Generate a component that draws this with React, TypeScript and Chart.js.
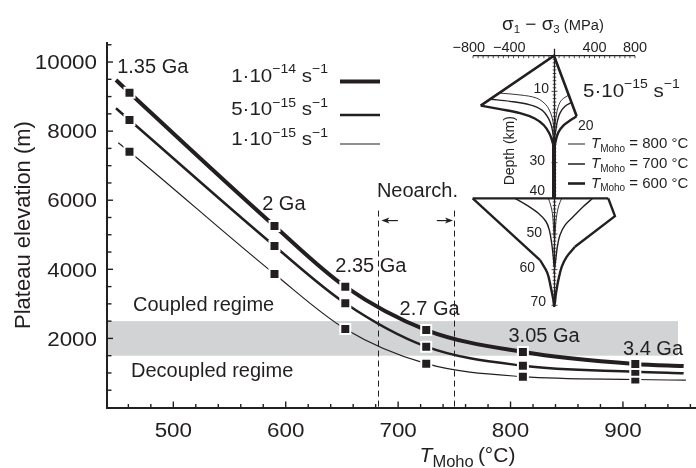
import React, { useEffect, useRef } from 'react';
import { Chart, registerables } from 'chart.js';

Chart.register(...registerables);

const FONT = '"Liberation Sans", Arial, Helvetica, sans-serif';
const INK = '#231f20';
const BAND = '#d1d3d4';

// ---------------- main panel data ----------------
const ageLabels = ['1.35 Ga', '2 Ga', '2.35 Ga', '2.7 Ga', '3.05 Ga', '3.4 Ga'];
const mohoTemps = [461, 590, 653, 725, 811, 911];
const elev1e14 = [9113, 5254, 3497, 2243, 1607, 1260];
const elev5e15 = [8322, 4675, 3016, 1760, 1210, 1036];
const elev1e15 = [7405, 3864, 2272, 1268, 892, 810];
const curveStartTemp = [449, 449, 451];
const curveStartElev = [9480, 8661, 7665];
const curveEndTemp = [954, 954, 956];
const curveEndElev = [1200, 990, 790];
const strainMantissa = ['1', '5', '1'];
const strainExponent = ['\u221214', '\u221215', '\u221215'];
const couplingBandElev = [1500, 2500];
const couplingBandEndTemp = 949;
const neoarcheanTemps = [682, 750];
const neoarcheanTopElev = 5700;
const xMajorTicks = [500, 600, 700, 800, 900];
const yMajorTicks = [2000, 4000, 6000, 8000, 10000];
const regimeLabels = ['Coupled regime', 'Decoupled regime'];

// ---------------- inset data: [stress MPa, depth km] ----------------
const brittleLine = [[-724, 14], [0, 0], [224, 17]];
const crust600Left = [[-724, 14], [-533, 15.0], [-336, 16.1], [-190, 17.6], [-100, 19.5], [-45, 21.8], [-15, 24.2], [0, 26]];
const crust600Right = [[224, 17], [158, 18.2], [92, 19.6], [43, 21.5], [18, 23.8], [0, 26.4]];
const crust700Left = [[-625, 12.2], [-435, 12.8], [-237, 13.8], [-122, 15.2], [-56, 17.5], [-23, 19.9], [-7, 22.7], [0, 25]];
const crust700Right = [[174, 13.1], [109, 14.2], [59, 16.1], [33, 18.4], [18, 20.8], [0, 24]];
const crust800Left = [[-533, 10.5], [-336, 11], [-171, 11.9], [-79, 13.8], [-33, 16.1], [-7, 18.9], [0, 22]];
const crust800Right = [[147, 11], [76, 12.4], [43, 14.2], [23, 16.6], [12, 18.9], [0, 22]];
const ductileColumn = [[0, 23], [0, 40]];
const mohoStep = [[-803, 40], [536, 40]];
const mantle600LeftBrittle = [[-803, 40], [-138, 57.3]];
const mantle600LeftDuctile = [[-138, 57.3], [-66, 60.9], [-33, 64.7], [-7, 68.4], [0, 70]];
const mantle600RightBrittle = [[536, 40], [602, 45], [207, 53.6]];
const mantle600RightDuctile = [[207, 53.6], [125, 56.4], [76, 59.2], [43, 62.9], [20, 66.6], [7, 69.5], [0, 70.5]];
const mantle700Left = [[-385, 40], [-270, 41.9], [-155, 44.2], [-79, 46.5], [-46, 48.9], [-23, 52.6], [-7, 56.4], [0, 59.2]];
const mantle700Right = [[382, 40], [290, 42.3], [191, 45.1], [109, 47.5], [59, 50.3], [33, 53.6], [17, 57.3], [0, 61]];
const mantle800Left = [[-56, 40], [-33, 41.9], [-16, 44.2], [-7, 47], [0, 50.8]];
const mantle800Right = [[76, 40], [49, 41.9], [30, 44.2], [17, 47], [9, 50.8], [0, 55]];
const stressTicks = [-800, -400, 400, 800];
const depthTicks = [10, 20, 30, 40, 50, 60, 70];
const insetTemps = ['800', '700', '600'];

// ---------------- layout / style (not data) ----------------
const seriesWidths = [4, 2.5, 1.2];
const ageLabelOffsets = [[-12.3, -19.4], [-12.3, -16], [-10, -15], [-26.7, -15], [-14.4, -10.3], [-12.3, -9]];
const depthLabelLayout = [[-5, 2, 'r'], [24, 3, 'l'], [-9, 2.3, 'r'], [-9, -3.3, 'r'], [-12, 3.3, 'r'], [-19, 2.4, 'r'], [-8, 0.7, 'r']];
const insetLegendWidths = [1, 1.5, 2.6];

type Seg = { t: string; size: number; dy?: number; italic?: boolean };

function fontOf(size: number, italic?: boolean) {
  return `${italic ? 'italic ' : ''}${size}px ${FONT}`;
}

function drawRich(ctx: CanvasRenderingContext2D, segs: Seg[], x: number, y: number, align: 'left' | 'right' | 'center', hs = 1) {
  const widths = segs.map((s) => {
    ctx.font = fontOf(s.size, s.italic);
    return ctx.measureText(s.t).width * hs;
  });
  const total = widths.reduce((a, b) => a + b, 0);
  let cx = align === 'left' ? x : align === 'right' ? x - total : x - total / 2;
  segs.forEach((s, i) => {
    ctx.save();
    ctx.font = fontOf(s.size, s.italic);
    ctx.fillStyle = INK;
    ctx.textAlign = 'left';
    ctx.textBaseline = 'alphabetic';
    ctx.translate(cx, y + (s.dy || 0));
    ctx.scale(hs, 1);
    ctx.fillText(s.t, 0, 0);
    ctx.restore();
    cx += widths[i];
  });
  return total;
}

function drawText(ctx: CanvasRenderingContext2D, t: string, x: number, y: number, size: number, align: 'left' | 'right' | 'center' = 'left', hs = 1, italic = false) {
  return drawRich(ctx, [{ t, size, italic }], x, y, align, hs);
}

function seg(ctx: CanvasRenderingContext2D, x1: number, y1: number, x2: number, y2: number) {
  ctx.beginPath();
  ctx.moveTo(x1, y1);
  ctx.lineTo(x2, y2);
  ctx.stroke();
}

function arrowHead(ctx: CanvasRenderingContext2D, hx: number, hy: number, dir: number) {
  ctx.beginPath();
  ctx.moveTo(hx, hy);
  ctx.lineTo(hx - dir * 8, hy - 3);
  ctx.lineTo(hx - dir * 6, hy);
  ctx.lineTo(hx - dir * 8, hy + 3);
  ctx.closePath();
  ctx.fill();
}

const mainDecor = {
  id: 'mainDecor',
  beforeDatasetsDraw(chart: any) {
    const { ctx, scales: { x, y } } = chart;
    ctx.save();
    // coupling band
    const bx1 = x.getPixelForValue(x.min);
    const bx2 = x.getPixelForValue(couplingBandEndTemp);
    const by1 = y.getPixelForValue(couplingBandElev[1]);
    const by2 = y.getPixelForValue(couplingBandElev[0]);
    ctx.fillStyle = BAND;
    ctx.fillRect(bx1, by1, bx2 - bx1, by2 - by1);
    // Neoarchean dashed bounds
    ctx.strokeStyle = INK;
    ctx.lineWidth = 1;
    ctx.setLineDash([6, 4]);
    const yTop = y.getPixelForValue(neoarcheanTopElev);
    const yBot = y.getPixelForValue(0);
    neoarcheanTemps.forEach((t) => {
      const px = Math.round(x.getPixelForValue(t)) + 0.5;
      seg(ctx, px, yTop, px, yBot);
    });
    ctx.setLineDash([]);
    // arrows
    ctx.fillStyle = INK;
    const ay = yTop + 10;
    const lx = x.getPixelForValue(neoarcheanTemps[0]);
    const rx = x.getPixelForValue(neoarcheanTemps[1]);
    ctx.lineWidth = 1.2;
    seg(ctx, lx + 9, ay, lx + 20, ay);
    arrowHead(ctx, lx + 3.5, ay, -1);
    seg(ctx, rx - 17.5, ay, rx - 7, ay);
    arrowHead(ctx, rx - 1.3, ay, 1);
    // Neoarch. label
    drawText(ctx, 'Neoarch.', lx - 1, yTop - 13.3, 20);
    ctx.restore();
  },
  afterDatasetsDraw(chart: any) {
    const { ctx, chartArea: { left, right, top }, scales: { x, y } } = chart;
    ctx.save();
    ctx.strokeStyle = INK;
    const axisY = y.getPixelForValue(0) + 0.5;
    // axes
    ctx.lineWidth = 2;
    seg(ctx, left, top, left, axisY + 1);
    seg(ctx, left - 1, axisY, right + 2, axisY);
    ctx.lineWidth = 1.4;
    for (let t = 460; t <= 960; t += 20) {
      const px = x.getPixelForValue(t);
      const major = t % 100 === 0;
      seg(ctx, px, axisY, px, axisY - (major ? 6.5 : 4));
    }
    for (let v = 500; v <= 10500; v += 500) {
      const py = y.getPixelForValue(v);
      const major = v % 2000 === 0;
      seg(ctx, left, py, left + (major ? 6 : 4.5), py);
    }
    // tick labels
    xMajorTicks.forEach((t) => drawText(ctx, String(t), x.getPixelForValue(t), axisY + 28.7, 20, 'center', 1.12));
    yMajorTicks.forEach((v) => drawText(ctx, String(v), left - 10, y.getPixelForValue(v) + 7.2, 20, 'right', 1.12));
    // axis titles
    ctx.save();
    ctx.translate(30, (top + axisY) / 2 + 0);
    ctx.rotate(-Math.PI / 2);
    drawText(ctx, 'Plateau elevation (m)', 0, 0, 22, 'center');
    ctx.restore();
    const tx = x.getPixelForValue(612) ;
    drawRich(ctx, [
      { t: 'T', size: 21, italic: true },
      { t: 'Moho', size: 16.5, dy: 5 },
      { t: '\u2009(\u00b0C)', size: 21 },
    ], (left + right) / 2 + 66, axisY + 54, 'center');
    void tx;
    // regime labels
    drawText(ctx, regimeLabels[0], left + 26, y.getPixelForValue(couplingBandElev[1]) - 10, 20);
    drawText(ctx, regimeLabels[1], left + 24, y.getPixelForValue(couplingBandElev[0]) + 21, 20);
    // age labels next to the fastest-strain-rate markers
    ageLabels.forEach((lab, i) => {
      const px = x.getPixelForValue(mohoTemps[i]);
      const py = y.getPixelForValue(elev1e14[i]);
      drawText(ctx, lab, px + ageLabelOffsets[i][0], py + ageLabelOffsets[i][1], 20);
    });
    // strain-rate legend
    const legendBase = [81.7, 115, 145];
    const legendLineY = [81.5, 115, 144];
    strainMantissa.forEach((m, i) => {
      drawRich(ctx, [
        { t: m + '\u00b710', size: 19 },
        { t: strainExponent[i], size: 13, dy: -8.5 },
        { t: ' s', size: 19 },
        { t: '\u22121', size: 13, dy: -8.5 },
      ], 328, legendBase[i], 'right', 1.08);
      ctx.lineWidth = seriesWidths[i];
      seg(ctx, 340, legendLineY[i], 380, legendLineY[i]);
    });
    ctx.restore();
  },
};

const insetDecor = {
  id: 'insetDecor',
  beforeDatasetsDraw(chart: any) {
    const { ctx, scales: { x, y } } = chart;
    const x0 = Math.round(x.getPixelForValue(0)) + 0.5;
    const yTop = y.getPixelForValue(0);
    ctx.save();
    ctx.strokeStyle = INK;
    ctx.lineWidth = 1.3;
    seg(ctx, x.getPixelForValue(-800), yTop, x.getPixelForValue(800), yTop);
    seg(ctx, x0, yTop - 7, x0, y.getPixelForValue(70) + 1);
    ctx.lineWidth = 0.8;
    for (let s = -800; s <= 800; s += 50) {
      const px = x.getPixelForValue(s);
      seg(ctx, px, yTop, px, yTop + 2.5);
    }
    for (let d = 1; d <= 70; d++) {
      const py = y.getPixelForValue(d);
      const w = d % 10 === 0 ? 3 : 1.8;
      seg(ctx, x0 - w, py, x0 + w, py);
    }
    ctx.restore();
  },
  afterDatasetsDraw(chart: any) {
    const { ctx, scales: { x, y } } = chart;
    const x0 = x.getPixelForValue(0);
    const yTop = y.getPixelForValue(0);
    ctx.save();
    // stress tick labels: digits centred on the tick, minus hanging left
    stressTicks.forEach((s) => {
      const digits = String(Math.abs(s));
      const px = x.getPixelForValue(s);
      ctx.font = fontOf(14.5);
      const dw = ctx.measureText(digits).width;
      drawText(ctx, digits, px - dw / 2, yTop - 4, 14.5);
      if (s < 0) drawText(ctx, '\u2212', px - dw / 2, yTop - 4, 14.5, 'right');
    });
    // header
    drawRich(ctx, [
      { t: '\u03c3', size: 18 },
      { t: '1', size: 11, dy: 3 },
      { t: ' \u2212 ', size: 18 },
      { t: '\u03c3', size: 18 },
      { t: '3', size: 11, dy: 3 },
      { t: ' (MPa)', size: 14 },
    ], x0 - 52, yTop - 26, 'left', 1.05);
    // depth labels
    depthTicks.forEach((d, i) => {
      const [dx, dy, al] = depthLabelLayout[i] as [number, number, string];
      drawText(ctx, String(d), x0 + dx, y.getPixelForValue(d) + dy, 14, al === 'r' ? 'right' : 'left');
    });
    // depth title
    ctx.save();
    ctx.translate(x0 - 40, yTop + 95);
    ctx.rotate(-Math.PI / 2);
    drawText(ctx, 'Depth (km)', 0, 0, 14, 'center');
    ctx.restore();
    // strain rate
    drawRich(ctx, [
      { t: '5\u00b710', size: 19 },
      { t: '\u221215', size: 13, dy: -8.5 },
      { t: ' s', size: 19 },
      { t: '\u22121', size: 13, dy: -8.5 },
    ], x0 + 29, yTop + 41, 'left', 1.08);
    // temperature legend
    const rowLine = [88.3, 108.3, 127.8];
    insetTemps.forEach((t, i) => {
      ctx.strokeStyle = INK;
      ctx.lineWidth = insetLegendWidths[i];
      seg(ctx, x0 + 14, yTop + rowLine[i], x0 + 31, yTop + rowLine[i]);
      drawRich(ctx, [
        { t: 'T', size: 15, italic: true },
        { t: 'Moho', size: 10, dy: 3.5 },
        { t: ' = ' + t + ' \u00b0C', size: 15 },
      ], x0 + 37, yTop + rowLine[i] + 4.4, 'left');
    });
    ctx.restore();
  },
};

function pts(a: number[][]) {
  return a.map(([s, d]) => ({ x: s, y: d }));
}

function prof(data: number[][], width: number, tension: number) {
  return {
    data: pts(data),
    showLine: true,
    borderColor: INK,
    borderWidth: width,
    tension,
    pointRadius: 0,
    pointHoverRadius: 0,
    clip: false,
    borderJoinStyle: 'miter',
  };
}

export default function App() {
  const mainRef = useRef<HTMLCanvasElement>(null);
  const insetRef = useRef<HTMLCanvasElement>(null);

  useEffect(() => {
    const series = [elev1e14, elev5e15, elev1e15];
    const last = mohoTemps.length + 1;
    const main = new Chart(mainRef.current as HTMLCanvasElement, {
      type: 'line',
      data: {
        datasets: series.map((vals, i) => ({
          data: [
            { x: curveStartTemp[i], y: curveStartElev[i] },
            ...mohoTemps.map((t, j) => ({ x: t, y: vals[j] })),
            { x: curveEndTemp[i], y: curveEndElev[i] },
          ],
          borderColor: INK,
          borderWidth: seriesWidths[i],
          cubicInterpolationMode: 'monotone',
          pointStyle: 'rect',
          pointRadius: (c: any) => (c.dataIndex === 0 || c.dataIndex === last ? 0 : 7.07),
          pointHoverRadius: 0,
          pointBackgroundColor: INK,
          pointBorderColor: '#ffffff',
          pointBorderWidth: 2,
          clip: false,
        })),
      } as any,
      options: {
        responsive: false,
        animation: false,
        events: [],
        layout: { padding: { left: 107, top: 42, right: 0, bottom: 60.5 } },
        scales: {
          x: { type: 'linear', min: 441, max: 965, display: false },
          y: { type: 'linear', min: 0, max: 10580, display: false },
        },
        plugins: { legend: { display: false }, tooltip: { enabled: false } },
      } as any,
      plugins: [mainDecor],
    });

    const inset = new Chart(insetRef.current as HTMLCanvasElement, {
      type: 'scatter',
      data: {
        datasets: [
          prof(crust800Left, 0.9, 0.35),
          prof(crust800Right, 0.9, 0.35),
          prof(mantle800Left, 0.9, 0.35),
          prof(mantle800Right, 0.9, 0.35),
          prof(crust700Left, 1.4, 0.35),
          prof(crust700Right, 1.4, 0.35),
          prof(mantle700Left, 1.4, 0.35),
          prof(mantle700Right, 1.4, 0.35),
          prof(crust600Left, 2.4, 0.35),
          prof(crust600Right, 2.4, 0.35),
          prof(ductileColumn, 4, 0),
          prof(mantle600LeftDuctile, 2.4, 0.35),
          prof(mantle600RightDuctile, 2.4, 0.35),
          prof(mantle600LeftBrittle, 2.4, 0),
          prof(mantle600RightBrittle, 2.4, 0),
          prof(mohoStep, 2.2, 0),
          prof(brittleLine, 2.6, 0),
        ],
      } as any,
      options: {
        responsive: false,
        animation: false,
        events: [],
        layout: { padding: { left: 43, right: 61, top: 55.7, bottom: 14.7 } },
        scales: {
          x: { type: 'linear', min: -800, max: 800, display: false },
          y: { type: 'linear', min: 0, max: 70, reverse: true, display: false },
        },
        plugins: { legend: { display: false }, tooltip: { enabled: false } },
      } as any,
      plugins: [insetDecor],
    });

    return () => {
      main.destroy();
      inset.destroy();
    };
  }, []);

  return (
    <div style={{ position: 'fixed', left: 0, top: 0, width: 696, height: 468, background: '#ffffff', overflow: 'hidden' }}>
      <canvas ref={mainRef} width={696} height={468} style={{ position: 'absolute', left: 0, top: 0, width: 696, height: 468 }} />
      <canvas ref={insetRef} width={266} height={320} style={{ position: 'absolute', left: 430, top: 0, width: 266, height: 320 }} />
    </div>
  );
}
